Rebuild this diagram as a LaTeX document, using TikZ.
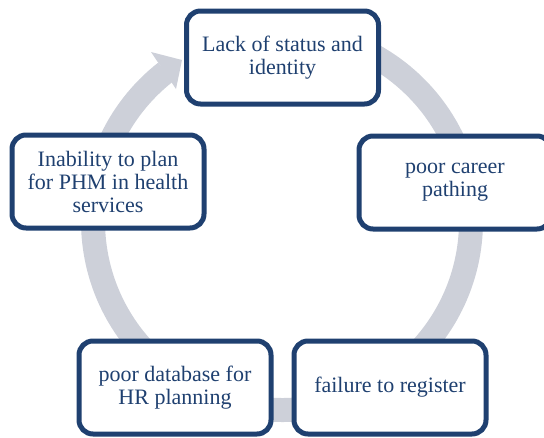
\documentclass[tikz,border=0pt]{standalone}
\usepackage{fontspec}
\setmainfont{Liberation Serif}
\definecolor{dblue}{RGB}{31,64,112}
\definecolor{ringgrey}{RGB}{205,208,217}
\begin{document}
\begin{tikzpicture}[x=1pt,y=-1pt,
  box/.style={draw=dblue, line width=5pt, rounded corners=14pt, fill=white,
    minimum width=192pt, minimum height=93pt, align=center, text=dblue,
    font=\fontsize{22}{23}\selectfont, inner sep=0pt}]
\useasboundingbox (0,0) rectangle (544,437);
% circular arrow behind the boxes
\draw[ringgrey, line width=24pt] (282,221) ++(-95:189) arc[start angle=-95, end angle=232, radius=189];
\fill[ringgrey] (182,60) -- (151,52) -- (176,89) -- cycle;
% boxes
\node[box] (lack) at (282.5,57.5) {Lack of status and\\identity};
\node[box] (career) at (455,182.5) {poor career\\pathing};
\node[box] (register) at (390,387.5) {failure to register};
\node[box] (database) at (175,387.5) {poor database for\\HR planning};
\node[box] (plan) at (108,181.5) {Inability to plan\\for PHM in health\\services};
\end{tikzpicture}
\end{document}
